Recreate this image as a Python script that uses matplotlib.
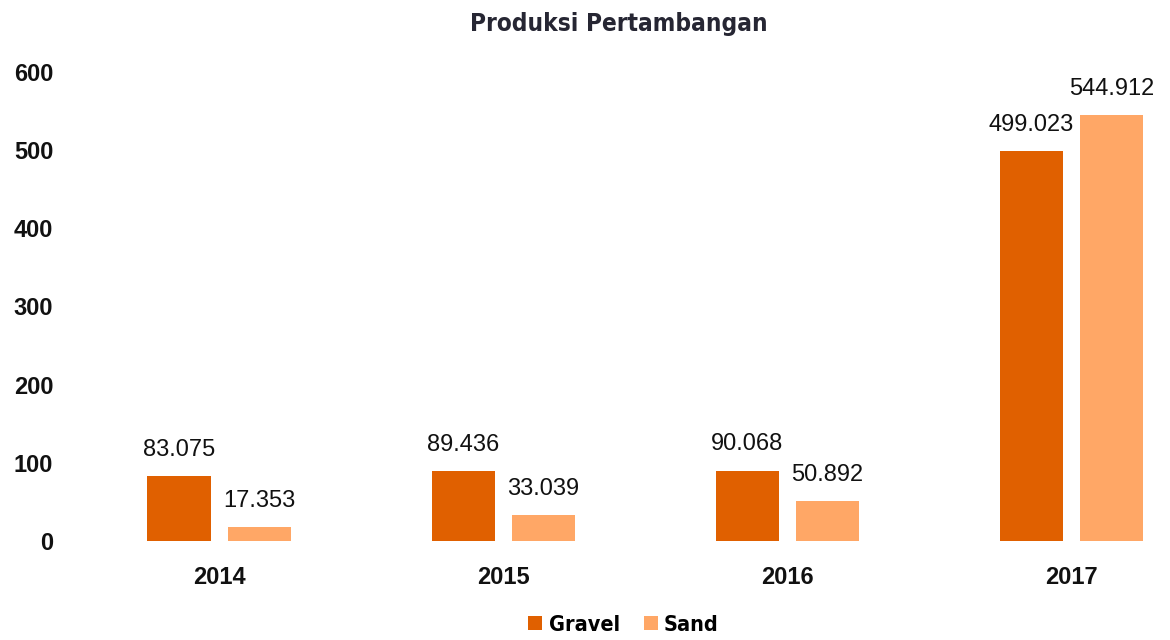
import numpy as np
import matplotlib.pyplot as plt

# data
years = ["2014", "2015", "2016", "2017"]
gravel = [83.075, 89.436, 90.068, 499.023]
sand = [17.353, 33.039, 50.892, 544.912]
series_names = ["Gravel", "Sand"]
yticks = [0, 100, 200, 300, 400, 500, 600]

GRAVEL_COLOR = "#E06000"
SAND_COLOR = "#FFA766"

plt.rcParams["font.family"] = ["Liberation Sans", "DejaVu Sans"]
cond = ["DejaVu Sans"]

fig = plt.figure(figsize=(11.7, 6.4), dpi=100)
ax = fig.add_axes([0.0658, 0.1547, 0.93, 0.7328])

x = np.arange(len(years))
w = 0.222
off = 0.141
b1 = ax.bar(x - off, gravel, w, color=GRAVEL_COLOR, label=series_names[0])
b2 = ax.bar(x + off, sand, w, color=SAND_COLOR, label=series_names[1])

for bars, vals in ((b1, gravel), (b2, sand)):
    for rect, v in zip(bars, vals):
        ax.annotate(f"{v:.3f}", (rect.get_x() + rect.get_width() / 2, v),
                    xytext=(0, 11), textcoords="offset points",
                    ha="center", va="bottom", fontsize=17, color="#111111")

ax.set_xlim(-0.5, 3.33)
ax.set_ylim(0, 600)
ax.set_yticks(yticks)
ax.set_xticks(x)
ax.set_xticklabels(years)
for s in ax.spines.values():
    s.set_visible(False)
ax.tick_params(axis="both", length=0, labelsize=17, colors="#111111")
ax.tick_params(axis="x", pad=18)
ax.tick_params(axis="y", pad=17)
for lbl in ax.get_xticklabels() + ax.get_yticklabels():
    lbl.set_fontweight("bold")

fig.text(0.529, 0.982, "Produksi Pertambangan", ha="center", va="top",
         fontsize=17.5, fontweight="bold", color="#262633",
         fontstretch="condensed", family=cond)

leg = fig.legend(handles=[b1, b2], loc="lower center", bbox_to_anchor=(0.533, -0.022),
                 ncol=2, frameon=False, handlelength=0.65, handleheight=0.65,
                 handletextpad=0.3, columnspacing=1.1,
                 prop={"size": 15.5, "weight": "bold", "stretch": "condensed",
                       "family": cond})

fig.savefig("out.png", dpi=100)
